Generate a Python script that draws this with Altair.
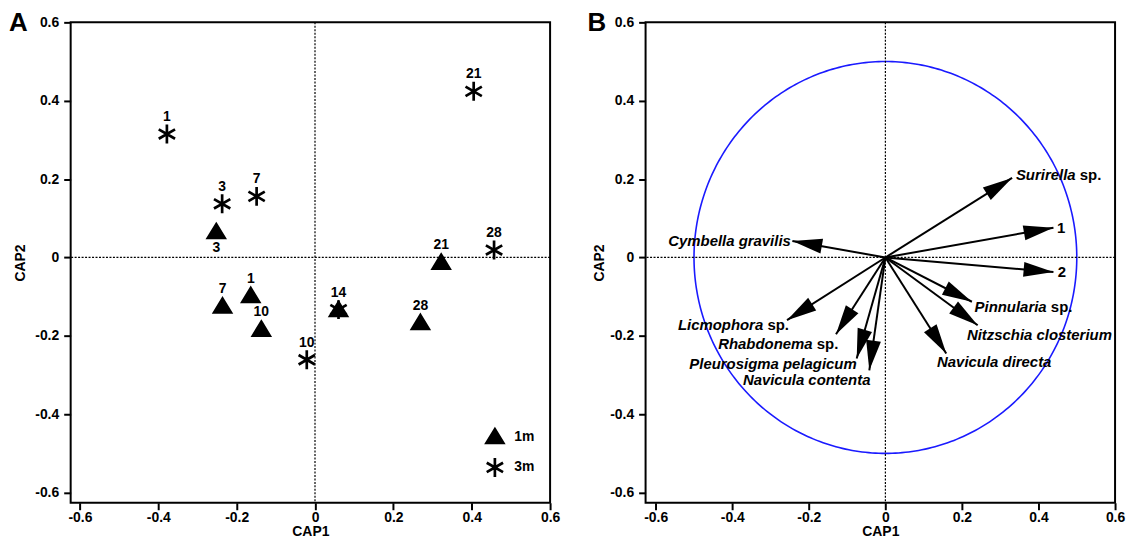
import math
import numpy as np
import pandas as pd
import altair as alt

FONT = "Liberation Sans"

# ---------------- Panel A: sample scores ----------------
days = ["1", "3", "7", "10", "14", "21", "28"]
cap1_1m = [-0.164, -0.252, -0.236, -0.137, 0.060, 0.322, 0.269]
cap2_1m = [-0.097, 0.066, -0.124, -0.183, -0.133, -0.012, -0.166]
cap1_3m = [-0.378, -0.237, -0.149, -0.021, 0.060, 0.405, 0.457]
cap2_3m = [0.315, 0.137, 0.156, -0.261, -0.133, 0.424, 0.019]
depth_names = ["1m", "3m"]
labels_below = [("1m", "3")]

# ---------------- Panel B: species vectors ----------------
vectors = ["Surirella sp.", "1", "2", "Cymbella gravilis", "Pinnularia sp.",
           "Nitzschia closterium", "Navicula directa", "Licmophora sp.",
           "Rhabdonema sp.", "Pleurosigma pelagicum", "Navicula contenta"]
tip_x = [0.331, 0.439, 0.439, -0.243, 0.226, 0.241, 0.159, -0.257, -0.129, -0.075, -0.042]
tip_y = [0.203, 0.076, -0.037, 0.042, -0.113, -0.173, -0.245, -0.160, -0.196, -0.258, -0.288]
lab_x = [0.341, 0.448, 0.450, -0.247, 0.233, 0.213, 0.135, -0.252, -0.123, -0.075, -0.039]
lab_y = [0.210, 0.075, -0.037, 0.041, -0.126, -0.198, -0.266, -0.173, -0.220, -0.273, -0.313]
lab_side = ["left", "left", "left", "right", "left", "left", "left",
            "right", "right", "right", "right"]
circle_radius = 0.5

axis_ticks = [-0.6, -0.4, -0.2, 0, 0.2, 0.4, 0.6]

# ---------------- layout ----------------
WA, WB, H = 482, 472, 483
XA_DOM = [-0.6236, 0.6]
XB_DOM = [-0.6265, 0.6]
Y_DOM = [-0.626, 0.6]
KXB = WB / (XB_DOM[1] - XB_DOM[0])
KY = H / (Y_DOM[1] - Y_DOM[0])
B_FS = 15

LABEL_EXPR = ("datum.value == 0 ? '0' : (datum.value < 0 ? '-' : '') + "
              "format(abs(datum.value), '.1f')")

# Arial/Liberation Sans Bold advance widths (per 1000 em)
CW = {" ": 278, ".": 278, "a": 556, "b": 611, "c": 556, "d": 611, "e": 556,
      "f": 333, "g": 611, "h": 611, "i": 278, "l": 278, "m": 889, "n": 611,
      "o": 611, "p": 611, "r": 389, "s": 556, "t": 333, "u": 611, "v": 556,
      "y": 556, "z": 500, "S": 667, "P": 667, "L": 611, "R": 722, "N": 722,
      "C": 722, "1": 556, "2": 556}


def tw(s, fs=B_FS):
    return sum(CW.get(c, 556) for c in s) / 1000.0 * fs


def X(dom, title, field="x"):
    return alt.X(f"{field}:Q", scale=alt.Scale(domain=dom, nice=False, zero=False),
                 axis=alt.Axis(values=axis_ticks, labelExpr=LABEL_EXPR, title=title,
                               titlePadding=0, labelPadding=1))


def Y(title, tp, field="y"):
    return alt.Y(f"{field}:Q", scale=alt.Scale(domain=Y_DOM, nice=False, zero=False),
                 axis=alt.Axis(values=axis_ticks, labelExpr=LABEL_EXPR, title=title,
                               titlePadding=tp, labelPadding=5))


TRI = "M0,-0.74L0.84,0.64L-0.84,0.64Z"
STAR = "M0,-0.95L0,0.95M-0.82,-0.475L0.82,0.475M-0.82,0.475L0.82,-0.475"
HEAD = "M0,0L-0.25,1L0.25,1Z"

LEG = alt.Legend(title=None, orient="none", legendX=415, legendY=405,
                 labelFont=FONT, labelFontSize=14, labelFontWeight="bold",
                 labelColor="black", labelOffset=8, rowPadding=3, symbolSize=400,
                 symbolStrokeWidth=2.7, padding=0)

# ---------------- Panel A ----------------
rows = []
for d, xs, ys in [("1m", cap1_1m, cap2_1m), ("3m", cap1_3m, cap2_3m)]:
    for day, xv, yv in zip(days, xs, ys):
        rows.append({"depth": d, "day": day, "x": xv, "y": yv,
                     "below": (d, day) in labels_below})
dfA = pd.DataFrame(rows)

ytA = "CAP2"
TPA, TPB = 7, 3.5
vrule = alt.Chart(pd.DataFrame({"x": [0.0]})).mark_rule(
    color="black", strokeWidth=1.2, strokeDash=[2, 1.5]).encode(x=X(XA_DOM, "CAP1"))
hrule = alt.Chart(pd.DataFrame({"y": [0.0]})).mark_rule(
    color="black", strokeWidth=1.2, strokeDash=[2, 1.5]).encode(y=Y(ytA, TPA))

ptsA = alt.Chart(dfA).mark_point(
    filled=True, strokeWidth=2.7, size=400, opacity=1
).encode(
    x=X(XA_DOM, "CAP1"), y=Y(ytA, TPA),
    shape=alt.Shape("depth:N", scale=alt.Scale(domain=depth_names, range=[TRI, STAR]),
                    legend=LEG),
    fill=alt.Fill("depth:N", scale=alt.Scale(domain=depth_names, range=["black", "black"]),
                  legend=LEG),
    stroke=alt.Stroke("depth:N", scale=alt.Scale(domain=depth_names, range=["black", "black"]),
                      legend=LEG),
)
# one label per point position (the 1m and 3m samples of day 14 coincide)
dfA_lab = dfA.drop_duplicates(subset=["x", "y", "day"])
txt_above = alt.Chart(dfA_lab[~dfA_lab["below"]]).mark_text(
    font=FONT, fontSize=14, fontWeight="bold", color="black", dy=-17
).encode(x=X(XA_DOM, "CAP1"), y=Y(ytA, TPA), text="day:N")
txt_below = alt.Chart(dfA_lab[dfA_lab["below"]]).mark_text(
    font=FONT, fontSize=14, fontWeight="bold", color="black", dy=16
).encode(x=X(XA_DOM, "CAP1"), y=Y(ytA, TPA), text="day:N")
letterA = alt.Chart(pd.DataFrame({"t": ["A"]})).mark_text(
    font=FONT, fontSize=26, fontWeight="bold", color="black", align="left",
    baseline="top").encode(x=alt.value(-62), y=alt.value(-12), text="t:N")

panelA = alt.layer(vrule, hrule, ptsA, txt_above, txt_below, letterA).properties(
    width=WA, height=H)

# ---------------- Panel B ----------------
theta = np.linspace(0, 2 * np.pi, 361)
dfC = pd.DataFrame({"x": circle_radius * np.cos(theta),
                    "y": circle_radius * np.sin(theta),
                    "i": np.arange(len(theta))})

dfV = pd.DataFrame({"name": vectors, "x": 0.0, "y": 0.0, "tx": tip_x, "ty": tip_y})
dfV["ang"] = [(math.degrees(math.atan2(a * KXB, b * KY)) + 360) % 360
              for a, b in zip(tip_x, tip_y)]

lab_rows = []
for name, lx, ly, side in zip(vectors, lab_x, lab_y, lab_side):
    if name in ("1", "2"):
        ital, plain = "", name
    elif name.endswith(" sp."):
        ital, plain = name[:-4], "sp."
    else:
        ital, plain = name, ""
    if side == "left":
        if ital:
            lab_rows.append({"t": ital, "style": "italic", "align": "left", "x": lx, "y": ly})
        if plain:
            off = tw(ital + " ") if ital else 0.0
            lab_rows.append({"t": plain, "style": "normal", "align": "left",
                             "x": lx + off / KXB, "y": ly})
    else:
        if plain:
            lab_rows.append({"t": plain, "style": "normal", "align": "right", "x": lx, "y": ly})
        if ital:
            off = tw(" " + plain) if plain else 0.0
            lab_rows.append({"t": ital, "style": "italic", "align": "right",
                             "x": lx - off / KXB, "y": ly})
dfL = pd.DataFrame(lab_rows)

ytB = "CAP2"
circle = alt.Chart(dfC).mark_line(color="#1a1aff", strokeWidth=1.6).encode(
    x=X(XB_DOM, "CAP1"), y=Y(ytB, TPB), order="i:Q")
vruleB = alt.Chart(pd.DataFrame({"x": [0.0]})).mark_rule(
    color="black", strokeWidth=1.2, strokeDash=[2, 1.5]).encode(x=X(XB_DOM, "CAP1"))
hruleB = alt.Chart(pd.DataFrame({"y": [0.0]})).mark_rule(
    color="black", strokeWidth=1.2, strokeDash=[2, 1.5]).encode(y=Y(ytB, TPB))
shafts = alt.Chart(dfV).mark_rule(color="black", strokeWidth=2).encode(
    x=X(XB_DOM, "CAP1"), y=Y(ytB, TPB), x2="tx:Q", y2="ty:Q")
heads = alt.Chart(dfV).mark_point(
    shape=HEAD, filled=True, color="black", size=3600, opacity=1
).encode(x=X(XB_DOM, "CAP1", "tx"), y=Y(ytB, TPB, "ty"),
         angle=alt.Angle("ang:Q", scale=None))

text_layers = []
for style in ["italic", "normal"]:
    for al in ["left", "right"]:
        sub = dfL[(dfL["style"] == style) & (dfL["align"] == al)]
        if len(sub) == 0:
            continue
        text_layers.append(alt.Chart(sub).mark_text(
            font=FONT, fontSize=B_FS, fontWeight="bold", fontStyle=style,
            color="black", align=al, baseline="middle"
        ).encode(x=X(XB_DOM, "CAP1"), y=Y(ytB, TPB), text="t:N"))

letterB = alt.Chart(pd.DataFrame({"t": ["B"]})).mark_text(
    font=FONT, fontSize=26, fontWeight="bold", color="black", align="left",
    baseline="top").encode(x=alt.value(-58.5), y=alt.value(-12), text="t:N")

panelB = alt.layer(circle, vruleB, hruleB, shafts, heads, *text_layers, letterB).properties(
    width=WB, height=H)

chart = alt.hconcat(panelA, panelB, spacing=25).properties(
    padding={"left": 0, "top": 0, "right": 0, "bottom": 0}
).configure_view(
    stroke="black", strokeWidth=2
).configure_axis(
    domain=False, grid=False, ticks=True, tickColor="black", tickWidth=2, tickSize=7,
    labelFont=FONT, labelFontSize=14, labelFontWeight="bold", labelColor="black",
    labelFlush=False, labelOverlap=False,
    titleFont=FONT, titleFontSize=14, titleFontWeight="bold", titleColor="black"
)

chart.save("out.html", embed_options={"renderer": "svg", "actions": False})
